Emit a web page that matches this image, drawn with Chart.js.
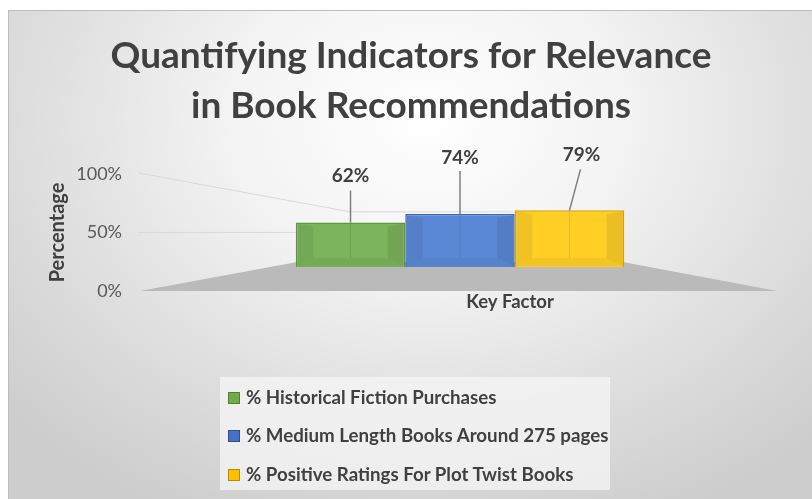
<!DOCTYPE html>
<html><head><meta charset="utf-8">
<script src="https://cdn.jsdelivr.net/npm/chart.js@4"></script>
<style>
html,body{margin:0;padding:0;background:#fff;width:812px;height:499px;overflow:hidden;}
#frame{position:absolute;left:8px;top:10px;width:804px;height:489px;border-left:1px solid #bdbdbd;border-top:1px solid #bdbdbd;box-sizing:border-box;
 background:radial-gradient(ellipse 70% 90% at 52% 22%, #ffffff 0%, #f3f3f3 35%, #dedede 70%, #cdcdcd 100%);}
#wrap{position:absolute;left:0;top:0;width:812px;height:499px;}
#legend{position:absolute;left:220px;top:377px;width:390px;height:113px;background:rgba(246,246,246,0.75);font-family:Lato,sans-serif;font-weight:bold;font-size:18.7px;color:#404040;}
.item{position:absolute;left:8px;height:20px;line-height:20px;white-space:nowrap;}
.sw{display:inline-block;width:10px;height:10px;border:1px solid;vertical-align:middle;margin-right:6px;position:relative;top:-1px;}
</style></head>
<body>
<div id="frame"></div>
<div id="wrap"><canvas id="c" width="812" height="499"></canvas></div>
<div id="legend"></div>
<script>
// ---- data ----
const categories = ['Key Factor'];
const seriesNames = ['% Historical Fiction Purchases', '% Medium Length Books Around 275 pages', '% Positive Ratings For Plot Twist Books'];
const historicalFiction = [62];
const mediumLengthBooks = [74];
const plotTwistRatings = [79];
const yTicks = [0, 50, 100];
const chartTitle = ['Quantifying Indicators for Relevance', 'in Book Recommendations'];
const yTitle = 'Percentage';

// ---- styles ----
const fills = ['#7bb45c', '#5b88d6', '#ffcf26'];
const borders = ['#5c9a3f', '#3a67b8', '#d9a500'];
const swFill = ['#70ad47', '#4472c4', '#ffc000'];
const swBorder = ['#507e32', '#2f528f', '#bc8c00'];
const labelOffsets = [{dx:0, dy:-47, lx:0, ly:-32}, {dx:0, dy:-56, lx:0, ly:-43}, {dx:12, dy:-55, lx:11, ly:-41}];
const FONT = 'Lato, sans-serif';

const seriesValues = [historicalFiction, mediumLengthBooks, plotTwistRatings];

// legend (HTML, real text)
const lg = document.getElementById('legend');
const rowTops = [10, 48, 87];
seriesNames.forEach((n, i) => {
  const d = document.createElement('div');
  d.className = 'item';
  d.style.top = rowTops[i] + 'px';
  d.innerHTML = '<span class="sw" style="background:' + swFill[i] + ';border-color:' + swBorder[i] + '"></span>' + n;
  lg.appendChild(d);
});

const decor = {
  id: 'decor',
  beforeDatasetsDraw(chart) {
    const ctx = chart.ctx, a = chart.chartArea;
    const y = chart.scales.y, yb = chart.scales.yb;
    const metas = chart.getSortedVisibleDatasetMetas();
    const first = metas[0].data[0], last = metas[metas.length - 1].data[0];
    const bl = first.x - first.width / 2, br = last.x + last.width / 2;
    const floorTop = yb.getPixelForValue(0) - 5;
    const y0 = y.getPixelForValue(0);
    ctx.save();
    ctx.fillStyle = '#bababa';
    ctx.beginPath();
    ctx.moveTo(a.left + 2, y0);
    ctx.lineTo(a.right - 5, y0);
    ctx.lineTo(br, floorTop);
    ctx.lineTo(bl, floorTop);
    ctx.closePath();
    ctx.fill();
    ctx.strokeStyle = '#d9d9d9';
    ctx.lineWidth = 1;
    const y100 = y.getPixelForValue(100), y50 = y.getPixelForValue(50);
    ctx.beginPath();
    ctx.moveTo(a.left, y100 - 1);
    ctx.lineTo(first.x, y100 + 38);
    ctx.lineTo(br, y100 + 38);
    ctx.moveTo(a.left, y50);
    ctx.lineTo(bl, y50);
    ctx.stroke();
    ctx.restore();
  },
  afterDatasetsDraw(chart) {
    const ctx = chart.ctx;
    ctx.save();
    chart.getSortedVisibleDatasetMetas().forEach((meta, i) => {
      const el = meta.data[0];
      const L = el.x - el.width / 2, R = el.x + el.width / 2, T = el.y, B = el.base;
      const ins = el.width * 0.16;
      const iL = L + ins, iR = R - ins, iT = T + 4, iB = B - 9;
      ctx.fillStyle = 'rgba(0,0,0,0.06)';
      ctx.beginPath(); ctx.moveTo(L + 1, T + 1); ctx.lineTo(iL, iT); ctx.lineTo(iL, iB); ctx.lineTo(L + 1, B - 1); ctx.fill();
      ctx.fillStyle = 'rgba(0,0,0,0.08)';
      ctx.beginPath(); ctx.moveTo(R - 1, T + 1); ctx.lineTo(iR, iT); ctx.lineTo(iR, iB); ctx.lineTo(R - 1, B - 1); ctx.fill();
      ctx.fillStyle = 'rgba(0,0,0,0.05)';
      ctx.beginPath(); ctx.moveTo(L + 1, B - 1); ctx.lineTo(iL, iB); ctx.lineTo(iR, iB); ctx.lineTo(R - 1, B - 1); ctx.fill();
      ctx.strokeStyle = 'rgba(0,0,0,0.10)';
      ctx.lineWidth = 1;
      ctx.beginPath(); ctx.moveTo(el.x, T); ctx.lineTo(el.x, iB); ctx.stroke();
      const o = labelOffsets[i];
      ctx.strokeStyle = '#7f7f7f';
      ctx.lineWidth = 1.5;
      ctx.beginPath(); ctx.moveTo(el.x + o.lx, T + o.ly); ctx.lineTo(el.x, T); ctx.stroke();
      ctx.fillStyle = '#404040';
      ctx.font = 'bold 19px ' + FONT;
      ctx.textAlign = 'center';
      ctx.textBaseline = 'middle';
      ctx.fillText(seriesValues[i][0] + '%', el.x + o.dx, T + o.dy);
    });
    ctx.restore();
  }
};

new Chart(document.getElementById('c'), {
  type: 'bar',
  data: {
    labels: categories,
    datasets: seriesNames.map((n, i) => ({
      label: n,
      data: seriesValues[i],
      yAxisID: 'yb',
      backgroundColor: fills[i],
      borderColor: borders[i],
      borderWidth: 1.5,
      categoryPercentage: 0.51,
      barPercentage: 1.0
    }))
  },
  options: {
    responsive: false,
    animation: false,
    layout: { padding: { left: 40, right: 30, top: 22, bottom: 178 } },
    plugins: {
      legend: { display: false },
      tooltip: { enabled: false },
      title: {
        display: true,
        text: chartTitle,
        color: '#404040',
        font: { family: FONT, size: 37, weight: 'bold', lineHeight: 1.35 },
        padding: { top: 9, bottom: 43 }
      }
    },
    scales: {
      x: {
        grid: { display: false, drawTicks: false },
        border: { display: false },
        ticks: { color: '#404040', font: { family: FONT, size: 18.5, weight: 'bold' }, padding: 0, labelOffset: 50, maxRotation: 0 },
        afterFit(s) { s.height = 30; }
      },
      y: {
        position: 'left',
        min: 0, max: 100,
        afterBuildTicks(s) { s.ticks = yTicks.map(v => ({ value: v })); },
        ticks: { color: '#595959', font: { family: FONT, size: 18 }, padding: 8, callback: v => v + '%' },
        grid: { display: false },
        border: { display: false },
        title: { display: true, text: yTitle, color: '#404040', font: { family: FONT, size: 20, weight: 'bold' }, padding: { top: 6, bottom: 0 } },
        afterFit(s) { s.width = 98; }
      },
      yb: {
        display: false,
        min: -33, max: 129.6
      }
    }
  },
  plugins: [decor]
});
</script>
</body></html>
